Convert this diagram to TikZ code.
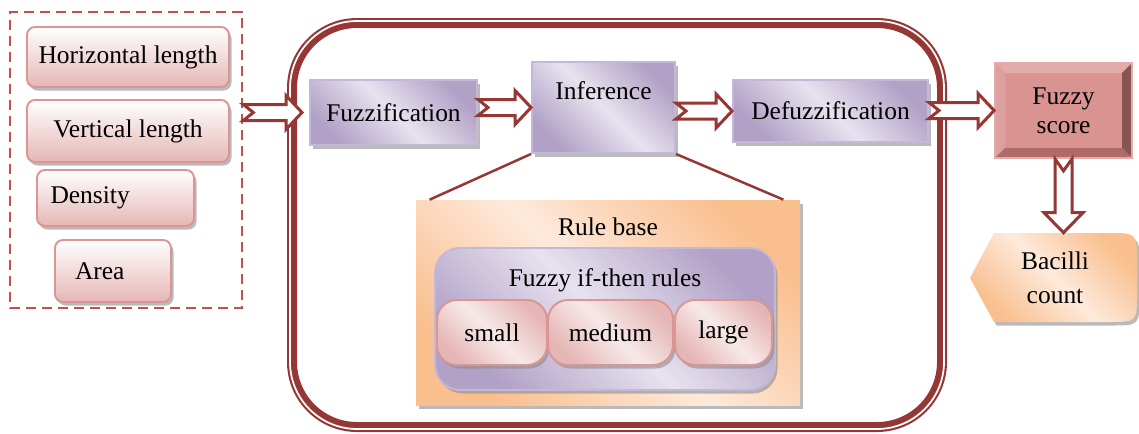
\documentclass[tikz,border=0pt]{standalone}
\usepackage{fontspec}
\setmainfont{Liberation Serif}
\usetikzlibrary{shadows,calc}
\definecolor{FrameRed}{RGB}{149,55,53}
\definecolor{DashRed}{RGB}{192,80,77}
\definecolor{PinkLine}{RGB}{217,150,148}
\definecolor{PinkFill}{RGB}{229,182,181}
\definecolor{PurpleDark}{RGB}{178,161,199}
\definecolor{PurpleLight}{RGB}{231,226,238}
\definecolor{PurpleLine}{RGB}{196,184,216}
\definecolor{OrangeDark}{RGB}{250,191,143}
\definecolor{OrangeLight}{RGB}{253,234,220}
\definecolor{ScoreFill}{RGB}{217,148,146}
\definecolor{ScoreTop}{RGB}{227,172,171}
\definecolor{ScoreLeft}{RGB}{222,160,159}
\definecolor{ScoreRight}{RGB}{134,84,83}
\definecolor{ScoreBottom}{RGB}{176,106,104}

\def\u{0.02cm}

\tikzset{
  softshadow/.style={drop shadow={shadow xshift=0.05cm, shadow yshift=-0.07cm, fill=black!45, opacity=0.6}},
  feature/.style={draw=PinkLine, line width=1.1pt, rounded corners=0.16cm, top color=white, bottom color=PinkFill, softshadow, inner sep=0pt},
  stage/.style={draw=PurpleLine, line width=1.1pt, left color=PurpleDark, right color=PurpleDark, middle color=PurpleLight, shading angle=-45, softshadow, inner sep=0pt},
  fuzzyset/.style={draw=PinkLine, line width=1.1pt, rounded corners=0.4cm, left color=PinkFill, right color=PinkFill, middle color=white!70!PinkFill, shading angle=-45, softshadow, inner sep=0pt, minimum height=65*\u},
  rulebox/.style={left color=OrangeDark, right color=OrangeDark, middle color=OrangeLight, shading angle=-45, softshadow, inner sep=0pt},
  bevelbox/.style={fill=ScoreFill, draw=ScoreTop, line width=1pt, inner sep=0pt, align=center,
    path picture={
      \fill[ScoreTop] (path picture bounding box.north west) -- (path picture bounding box.north east) -- ([shift={(-10,10)}]path picture bounding box.north east) -- ([shift={(10,10)}]path picture bounding box.north west) -- cycle;
      \fill[ScoreLeft] (path picture bounding box.north west) -- (path picture bounding box.south west) -- ([shift={(10,-10)}]path picture bounding box.south west) -- ([shift={(10,10)}]path picture bounding box.north west) -- cycle;
      \fill[ScoreRight] (path picture bounding box.north east) -- (path picture bounding box.south east) -- ([shift={(-10,-10)}]path picture bounding box.south east) -- ([shift={(-10,10)}]path picture bounding box.north east) -- cycle;
      \fill[ScoreBottom] (path picture bounding box.south west) -- (path picture bounding box.south east) -- ([shift={(-10,-10)}]path picture bounding box.south east) -- ([shift={(10,-10)}]path picture bounding box.south west) -- cycle;
    }},
  blockarrow/.style={draw=FrameRed, fill=white, line width=0.06cm, line join=miter},
}

% block arrow pointing right, drawn at the height of the target
\newcommand{\blockright}[2]{%
  \draw[blockarrow] let \p1=(#1), \p2=(#2) in
    (\x1,\y2+8*\u) -- (\x2-16*\u,\y2+8*\u) -- (\x2-16*\u,\y2+17*\u) -- (\x2,\y2)
    -- (\x2-16*\u,\y2-17*\u) -- (\x2-16*\u,\y2-8*\u) -- (\x1,\y2-8*\u) -- (\x1+10*\u,\y2) -- cycle;}
% block arrow pointing down
\newcommand{\blockdown}[2]{%
  \draw[blockarrow] let \p1=(#1), \p2=(#2) in
    (\x1-8.5*\u,\y1) -- (\x1-8.5*\u,\y2+20*\u) -- (\x1-19.5*\u,\y2+20*\u) -- (\x1,\y2)
    -- (\x1+19.5*\u,\y2+20*\u) -- (\x1+8.5*\u,\y2+20*\u) -- (\x1+8.5*\u,\y1) -- (\x1,\y1-12*\u) -- cycle;}

\begin{document}
\begin{tikzpicture}[x=0.02cm, y=-0.02cm, font=\fontsize{14.5}{16.5}\selectfont]
\useasboundingbox (0,0) rectangle (1139,433);

% --- Input features
\node[draw=DashRed, line width=1.5pt, dash pattern={on 0.2cm off 0.12cm}, minimum width=232*\u, minimum height=296*\u, inner sep=0pt] (inputs) at (126,160) {};
\node[feature, minimum width=202*\u, minimum height=60*\u] (hlen) at (128,57) {Horizontal length};
\node[feature, minimum width=202*\u, minimum height=62*\u] (vlen) at (128,131) {Vertical length};
\node[feature, minimum width=157*\u, minimum height=56*\u, text width=130*\u] (dens) at (115.5,198) {Density};
\node[feature, minimum width=116*\u, minimum height=62*\u, text width=76*\u] (area) at (113,271) {Area};

% --- Fuzzy inference system frame
\draw[FrameRed, line width=0.2cm, rounded corners=1.3cm] (292,23) rectangle (942,427);
\draw[white, line width=0.035cm, rounded corners=1.34cm] (290,21) rectangle (944,429);

% --- Stages
\node[stage, minimum width=167*\u, minimum height=65*\u] (fuzz) at (393.5,112.5) {Fuzzification};
\node[stage, minimum width=143*\u, minimum height=91*\u,
  label={[anchor=north, yshift=-8pt]north:Inference}] (infer) at (603.5,107.5) {};
\node[stage, minimum width=195*\u, minimum height=62*\u] (defuzz) at (830.5,111) {Defuzzification};

% --- Rule base
\node[rulebox, minimum width=384*\u, minimum height=205*\u,
  label={[anchor=north, yshift=-7pt]north:Rule base}] (rbase) at (608,302.5) {};
\draw[FrameRed, line width=0.05cm] (infer.south west) -- ([shift={(14,0)}]rbase.north west);
\draw[FrameRed, line width=0.05cm] (infer.south east) -- ([shift={(-17,0)}]rbase.north east);
\node[stage, rounded corners=0.5cm, minimum width=340*\u, minimum height=142*\u,
  label={[anchor=north, yshift=-9pt]north:Fuzzy if-then rules}] (rules) at (605,319) {};
\node[fuzzyset, minimum width=110*\u] (small) at (492,332.5) {small};
\node[fuzzyset, minimum width=125*\u] (medium) at (610.5,332.5) {medium};
\node[fuzzyset, minimum width=97*\u] (large) at (723.5,332.5) {large};

% --- Output
\node[bevelbox, minimum width=137*\u, minimum height=95*\u] (score) at (1063.5,110.5) {Fuzzy\\score};
\shade[left color=OrangeDark, right color=OrangeDark, middle color=OrangeLight, shading angle=-45, softshadow]
  (970,278) -- (994,233) -- (1108,233) .. controls (1137,233) .. (1137,262) -- (1137,293)
  .. controls (1137,322) .. (1108,322) -- (994,322) -- cycle;
\node[minimum width=167*\u, minimum height=89*\u, inner sep=0pt, align=center] (count) at (1055,277.5) {Bacilli\\[3pt]count};

% --- Block arrows
\blockright{inputs.east |- fuzz.west}{[xshift=-4pt]fuzz.west}
\blockright{fuzz.east |- infer.west}{infer.west}
\blockright{infer.east |- infer.west}{defuzz.west}
\blockright{defuzz.east |- score.west}{score.west}
\blockdown{score.south}{score.south |- count.north}

\end{tikzpicture}
\end{document}
